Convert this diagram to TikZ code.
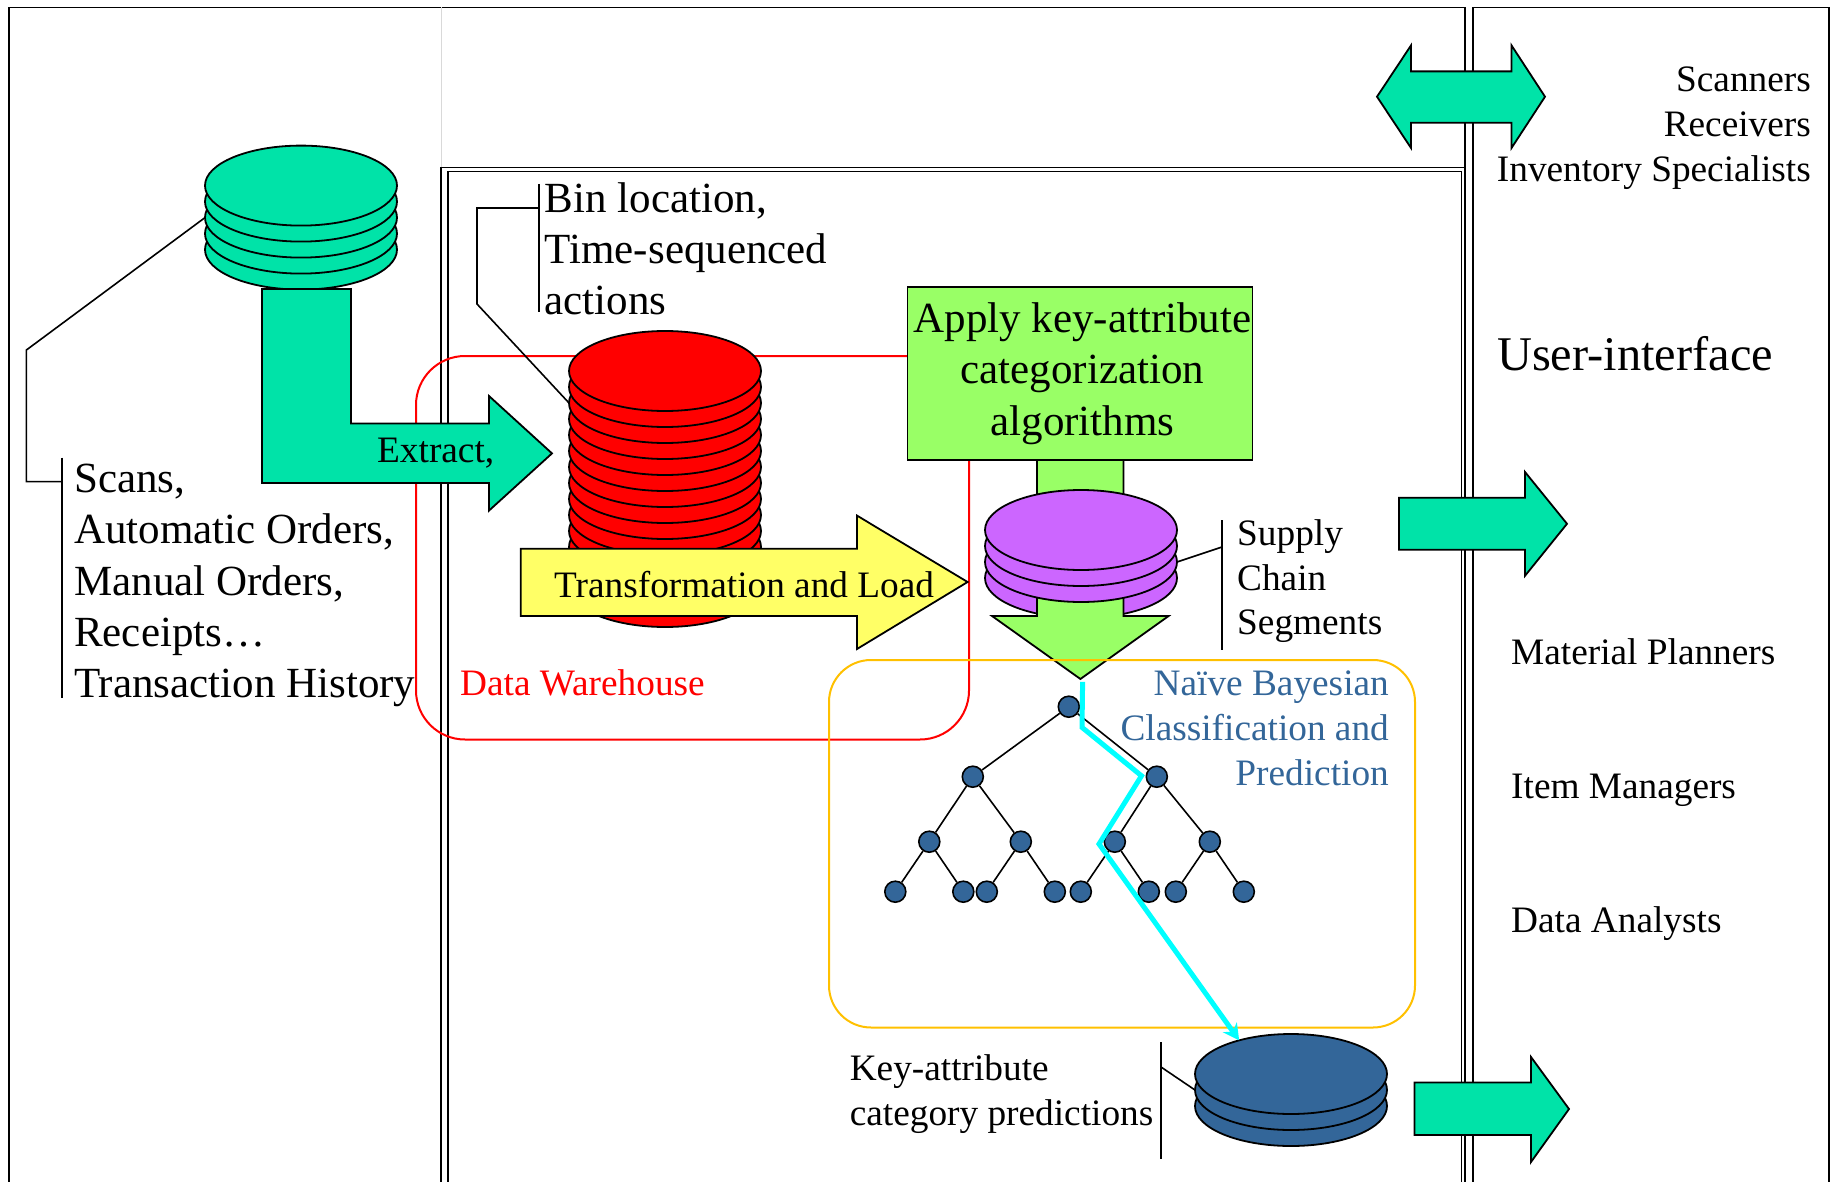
\documentclass[tikz,border=0pt]{standalone}
\usepackage{fontspec}
\setmainfont{Liberation Serif}
\usetikzlibrary{shapes.geometric,arrows.meta}

\definecolor{teal}{HTML}{00E3A8}
\definecolor{leaf}{HTML}{99FF66}
\definecolor{plum}{HTML}{CC66FF}
\definecolor{steel}{HTML}{336699}
\definecolor{sun}{HTML}{FFFF66}
\definecolor{amber}{HTML}{FFC000}
\definecolor{aqua}{HTML}{00FFFF}

\tikzset{
  frame/.style={line width=1.9pt},
  lead/.style={line width=1.6pt},
  block/.style={draw, line width=1.8pt, line join=miter},
  disk/.style={ellipse, draw, line width=1.8pt, inner sep=0pt, outer sep=0pt,
    minimum width=192pt, minimum height=80pt},
  bigtext/.style={inner sep=0pt, align=left, anchor=north west,
    font=\fontsize{43}{51.3}\selectfont},
  midtext/.style={inner sep=0pt, align=left, anchor=north west,
    font=\fontsize{37.3}{44.6}\selectfont},
  treedot/.style={circle, draw, fill=steel, line width=1.6pt, inner sep=0pt, minimum size=21pt}
}

\begin{document}
\begin{tikzpicture}[x=1pt, y=-1pt, line cap=butt,
    edge from parent/.style={draw, line width=1.6pt},
    level 1/.style={level distance=70pt, sibling distance=184pt},
    level 2/.style={level distance=65pt, sibling distance=94pt},
    level 3/.style={level distance=50pt, sibling distance=68pt}
    ]
  \useasboundingbox (0,-1) rectangle (1830,1181);

  % frames
  \draw[frame] (9,1182) -- (9,6.5) -- (1465,6.5) -- (1465,1182);
  \draw[frame] (1473,1182) -- (1473,6.5) -- (1829,6.5) -- (1829,1182);
  \draw[frame] (441,1182) -- (441,166.5) -- (1465,166.5);
  \draw[frame] (448,1182) -- (448,170.5) -- (1461.5,170.5) -- (1461.5,1182);
  \draw[black!15, line width=1pt] (441,6.5) -- (441,166.5);

  % data warehouse outline
  \draw[red, line width=2pt, rounded corners=49pt] (416,355) rectangle (969,738.5);

  % extract stack
  \foreach \d in {4,3,2,1,0}
    \node[disk, fill=teal] (greendisk\d) at (301,184.6+16*\d) {};
  \draw[block, fill=teal] (262,288) -- (351,288) -- (351,422.5) -- (489,422.5) -- (489,395)
    -- (552,452.4) -- (489,509.6) -- (489,482) -- (262,482) -- cycle;
  \node[midtext, anchor=base west] (extract) at (377,461) {Extract,};

  % warehouse stack
  \foreach \d in {13.5,12,11,10,9,8,7,6,5,4,3,2,1,0}
    \node[disk, fill=red] (reddisk\d) at (665,370+16*\d) {};
  \draw[block, fill=sun] (520.7,547.8) -- (857,547.8) -- (857,514.6) -- (967.6,581)
    -- (857,648) -- (857,615) -- (520.7,615) -- cycle;
  \node[midtext, anchor=base west] (transform) at (554,596) {Transformation and Load};

  % categorization
  \node[disk, fill=plum] (purpledisk3) at (1081,577) {};
  \draw[block, fill=leaf] (1037,459) -- (1123.5,459) -- (1123.5,615) -- (1168.6,615) -- (1080.4,678)
    -- (992,615) -- (1037,615) -- cycle;
  \node[block, fill=leaf, minimum width=345pt, minimum height=173pt] (apply) at (1080,372.5) {};
  \node[inner sep=0pt, align=center, font=\fontsize{43}{51.3}\selectfont] (applytext) at (1082.5,372.5)
    {Apply key-attribute\\categorization\\algorithms};
  \foreach \d in {2,1,0}
    \node[disk, fill=plum] (purpledisk\d) at (1081,529+16*\d) {};

  % tree
  \node[treedot] (troot) at (1068.8,705.7) {}
    child[xshift=-4pt] {node[treedot] (tl) {}
      child[xshift=3.5pt] {node[treedot] (tll) {}
        child {node[treedot] (tlll) {}}
        child {node[treedot] (tllr) {}}
      }
      child[xshift=1pt] {node[treedot] (tlr) {}
        child {node[treedot] (tlrl) {}}
        child {node[treedot] (tlrr) {}}
      }
    }
    child[xshift=-4pt] {node[treedot] (tr) {}
      child[xshift=5pt] {node[treedot] (trl) {}
        child {node[treedot] (trll) {}}
        child {node[treedot] (trlr) {}}
      }
      child[xshift=6pt] {node[treedot] (trr) {}
        child {node[treedot] (trrl) {}}
        child {node[treedot] (trrr) {}}
      }
    };

  % prediction stack
  \foreach \d in {2,1,0}
    \node[disk, fill=steel] (bluedisk\d) at (1291,1073+16*\d) {};

  % classification outline and path
  \draw[amber, line width=2pt, rounded corners=42pt] (829,659) rectangle (1415,1026.5);
  \coordinate (bend1) at (1082,726.4);
  \coordinate (bend2) at (1141.5,774.8);
  \coordinate (bend3) at (1099,843);
  \coordinate (start) at (1082.6,680.8);
  \draw[aqua, line width=5pt, -{Stealth[length=16pt,width=17pt]}] (start) -- (bend1) -- (bend2) -- (bend3) -- (bluedisk0.147);

  % user-interface arrows
  \draw[block, fill=teal] (1377,95.7) -- (1411,44.4) -- (1411,70.4) -- (1511.5,70.4) -- (1511.5,44.4)
    -- (1545,95.7) -- (1511.5,147) -- (1511.5,121.7) -- (1411,121.7) -- (1411,147) -- cycle;
  \draw[block, fill=teal] (1399,496.7) -- (1525,496.7) -- (1525,471) -- (1567,522.8) -- (1525,574.8)
    -- (1525,548.8) -- (1399,548.8) -- cycle;
  \draw[block, fill=teal] (1414.5,1081.4) -- (1531,1081.4) -- (1531,1056) -- (1569,1108) -- (1531,1161)
    -- (1531,1134) -- (1414.5,1134) -- cycle;

  % leaders
  \coordinate (scanbar) at (62,480.6);
  \coordinate (scanbend) at (26.4,349);
  \coordinate (scanfoot) at (26.4,480.6);
  \draw[lead] (62,456.5) -- (62,697);
  \draw[lead] (greendisk2.west) -- (scanbend) -- (scanfoot) -- (scanbar);
  \coordinate (binbar) at (539,207);
  \coordinate (binbend) at (477,207);
  \coordinate (binfoot) at (477,303);
  \draw[lead] (539,183) -- (539,311.4);
  \draw[lead] (binbar) -- (binbend) -- (binfoot) -- (reddisk2.west);
  \coordinate (supplybar) at (1222,546);
  \draw[lead] (1222,519) -- (1222,649);
  \draw[lead] (supplybar) -- (purpledisk2.east);
  \coordinate (keybar) at (1161,1066);
  \draw[lead] (1161,1041) -- (1161,1158);
  \draw[lead] (keybar) -- (bluedisk1.west);

  % labels
  \node[bigtext] (scans) at (74,463) {Scans,\\Automatic Orders,\\Manual Orders,\\Receipts…\\Transaction History};
  \node[bigtext] (bin) at (544.5,181) {Bin location,\\Time-sequenced\\actions};
  \node[midtext, text=red, anchor=base west] (warehouse) at (460,694) {Data Warehouse};
  \node[midtext, anchor=north west] (supply) at (1237,518.5) {Supply\\Chain\\Segments};
  \node[midtext, anchor=north west] (keyattr) at (849.6,1053.5) {Key-attribute\\category predictions};
  \node[midtext, text=steel, align=right, anchor=north east] (bayes) at (1389,670) {Naïve Bayesian\\Classification and\\Prediction};
  \node[midtext, align=right, anchor=north east] (scanners) at (1811,66) {Scanners\\Receivers\\Inventory Specialists};
  \node[inner sep=0pt, anchor=base west, font=\fontsize{48.4}{56}\selectfont] (ui) at (1497,369) {User-interface};
  \node[midtext, anchor=base west] (planners) at (1511,663) {Material Planners};
  \node[midtext, anchor=base west] (managers) at (1511,797) {Item Managers};
  \node[midtext, anchor=base west] (analysts) at (1511,931) {Data Analysts};
\end{tikzpicture}
\end{document}
